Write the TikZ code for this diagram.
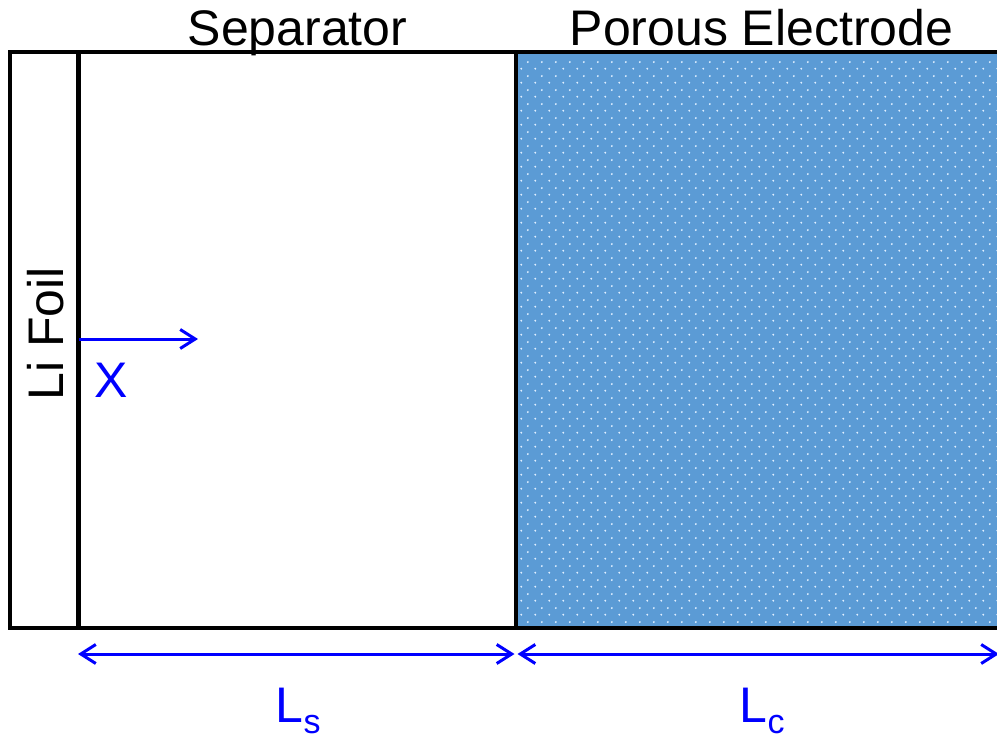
\documentclass[tikz,border=0pt]{standalone}
\usepackage{fontspec}
\setmainfont{Liberation Sans}
\usetikzlibrary{arrows.meta,patterns}
\pgfdeclarepatternformonly{elecdots}{\pgfqpoint{0pt}{0pt}}{\pgfqpoint{14pt}{13.6pt}}{\pgfqpoint{14pt}{13.6pt}}{%
  \pgfpathcircle{\pgfqpoint{3.5pt}{3.4pt}}{1.1pt}%
  \pgfpathcircle{\pgfqpoint{10.5pt}{10.2pt}}{1.1pt}%
  \pgfusepath{fill}}
\definecolor{elecblue}{RGB}{91,155,213}
\definecolor{dotcol}{RGB}{222,238,255}
\definecolor{arrblue}{RGB}{0,0,255}
\begin{document}
\begin{tikzpicture}[x=1pt,y=-1pt,
  wall/.style={line width=4.5pt, line cap=rect, line join=miter},
  dimarrow/.style={draw=arrblue, line width=3pt},
  barb/.style={-{Straight Barb[length=15pt,width=19pt,line width=3pt]}},
  bibarb/.style={{Straight Barb[length=15pt,width=19pt,line width=3pt]}-{Straight Barb[length=15pt,width=19pt,line width=3pt]}},
  lbl/.style={font=\fontsize{50}{60}\selectfont, inner sep=0pt},
  bluelbl/.style={lbl, text=arrblue}]
\useasboundingbox (0,0) rectangle (997,740);
% electrode region
\fill[elecblue] (516,52) rectangle (1000,628);
\fill[pattern=elecdots, pattern color=dotcol] (518,56) rectangle (1000,625);
% frame
\coordinate (tl) at (10,52);
\coordinate (bl) at (10,628);
\coordinate (tr) at (1000,52);
\coordinate (br) at (1000,628);
\coordinate (ft) at (78.5,52);
\coordinate (fb) at (78.5,628);
\coordinate (st) at (516,52);
\coordinate (sb) at (516,628);
\draw[wall] (tr) -- (tl) -- (bl) -- (br);
\draw[wall] (ft) -- (fb);
\draw[wall] (st) -- (sb);
% x arrow
\coordinate (x0) at (78.5,339);
\coordinate (x1) at (198,339);
\draw[dimarrow, barb] (x0) -- (x1);
% dimension arrows
\coordinate (d0) at (78,654);
\coordinate (dl) at (514.5,654);
\coordinate (dr) at (517.5,654);
\coordinate (d1) at (999,654);
\draw[dimarrow, bibarb] (d0) -- (dl);
\draw[dimarrow, bibarb] (dr) -- (d1);
% labels
\node[lbl, anchor=base] (sep) at (297.5,45) {Separator};
\node[lbl, anchor=base] (elec) at (761.5,45) {Porous Electrode};
\node[lbl, anchor=base, rotate=90] (foil) at (63,334) {Li Foil};
\node[bluelbl, anchor=base] (xlab) at (111.5,397) {X};
\node[bluelbl, anchor=base west] (ls) at (275.5,722) {L\raisebox{-11pt}{\fontsize{34}{40}\selectfont s}};
\node[bluelbl, anchor=base west] (lc) at (739.5,722) {L\raisebox{-11pt}{\fontsize{34}{40}\selectfont c}};
\end{tikzpicture}
\end{document}
